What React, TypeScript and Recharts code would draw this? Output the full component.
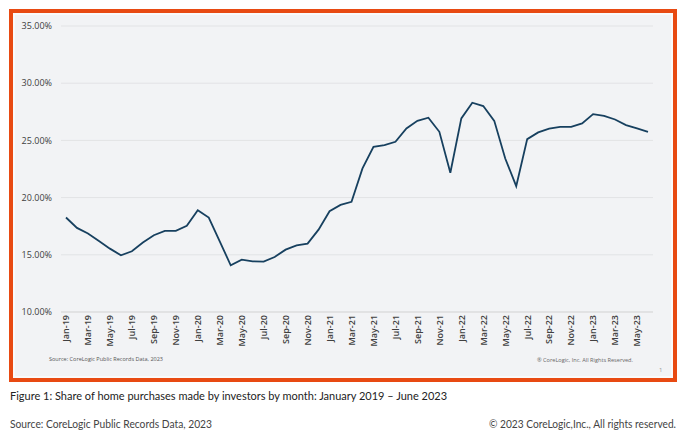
import React from 'react';
import { LineChart, Line, XAxis, YAxis, CartesianGrid } from 'recharts';

const MONTHS: string[] = [
  'Jan-19', 'Feb-19', 'Mar-19', 'Apr-19', 'May-19', 'Jun-19', 'Jul-19', 'Aug-19', 'Sep-19', 'Oct-19', 'Nov-19', 'Dec-19',
  'Jan-20', 'Feb-20', 'Mar-20', 'Apr-20', 'May-20', 'Jun-20', 'Jul-20', 'Aug-20', 'Sep-20', 'Oct-20', 'Nov-20', 'Dec-20',
  'Jan-21', 'Feb-21', 'Mar-21', 'Apr-21', 'May-21', 'Jun-21', 'Jul-21', 'Aug-21', 'Sep-21', 'Oct-21', 'Nov-21', 'Dec-21',
  'Jan-22', 'Feb-22', 'Mar-22', 'Apr-22', 'May-22', 'Jun-22', 'Jul-22', 'Aug-22', 'Sep-22', 'Oct-22', 'Nov-22', 'Dec-22',
  'Jan-23', 'Feb-23', 'Mar-23', 'Apr-23', 'May-23', 'Jun-23',
];

const INVESTOR_SHARE: number[] = [
  18.26, 17.35, 16.86, 16.21, 15.54, 14.96, 15.31, 16.07, 16.71, 17.09, 17.09, 17.53,
  18.9, 18.26, 16.18, 14.08, 14.58, 14.43, 14.4, 14.81, 15.45, 15.83, 15.98, 17.2,
  18.81, 19.36, 19.63, 22.55, 24.44, 24.59, 24.88, 26.05, 26.71, 26.98, 25.75, 22.17,
  26.92, 28.29, 28.0, 26.71, 23.42, 21.0, 25.11, 25.7, 26.02, 26.19, 26.19, 26.48,
  27.3, 27.15, 26.83, 26.34, 26.05, 25.75,
];

const Y_TICKS: number[] = [10, 15, 20, 25, 30, 35];

const CAPTION = 'Figure 1: Share of home purchases made by investors by month: January 2019 \u2013 June 2023';
const SOURCE_INNER = 'Source: CoreLogic Public Records Data, 2023';
const RIGHTS_INNER = '\u00AE CoreLogic, Inc. All Rights Reserved.';
const SOURCE_OUTER = 'Source: CoreLogic Public Records Data, 2023';
const RIGHTS_OUTER = '\u00A9 2023 CoreLogic,Inc., All rights reserved.';

const data = MONTHS.map((m, i) => ({ month: m, share: INVESTOR_SHARE[i] }));

const XTick = (props: any) => {
  const { x, y, payload } = props;
  return (
    <text
      transform={`translate(${x + 3.3},${y + 3}) rotate(-90)`}
      textAnchor="end"
      fontFamily="'Open Sans', sans-serif"
      fontWeight={600}
      fontSize={9}
      fill="#404040"
    >
      {payload.value}
    </text>
  );
};

export default function App() {
  return (
    <div style={{ position: 'absolute', left: 0, top: 0, width: 690, height: 439, background: '#ffffff', overflow: 'hidden' }}>
      <div
        style={{
          position: 'absolute',
          left: 9,
          top: 9,
          width: 668,
          height: 373,
          boxSizing: 'border-box',
          border: '4px solid #e84a12',
          background: '#f2f3f5',
          boxShadow: 'inset 0 0 0 2px #fafafa',
        }}
      />
      <div style={{ position: 'absolute', left: 0, top: 0 }}>
        <LineChart width={690} height={390} data={data} margin={{ top: 26, right: 37, bottom: 38, left: 11 }}>
          <CartesianGrid vertical={false} stroke="#e2e3e5" strokeWidth={1} />
          <XAxis
            dataKey="month"
            interval={1}
            tick={<XTick />}
            tickLine={false}
            tickSize={0}
            tickMargin={0}
            height={40}
            axisLine={{ stroke: '#d9d9d9' }}
            padding={{ left: 5, right: 5 }}
          />
          <YAxis
            domain={[10, 35]}
            ticks={Y_TICKS}
            width={50}
            axisLine={false}
            tickLine={false}
            tickSize={0}
            tickMargin={9}
            tickFormatter={(v: number) => `${v.toFixed(2)}%`}
            tick={{ fontFamily: "'Open Sans', sans-serif", fontSize: 9, fill: '#404040' }}
          />
          <Line
            type="linear"
            dataKey="share"
            stroke="#17405f"
            strokeWidth={1.8}
            dot={false}
            isAnimationActive={false}
          />
        </LineChart>
      </div>
      <svg width={690} height={439} style={{ position: 'absolute', left: 0, top: 0, pointerEvents: 'none' }}>
        <text x={49} y={361} fontFamily="'Open Sans', sans-serif" fontSize={5.6} fill="#555" textLength={114} lengthAdjust="spacingAndGlyphs">
          {SOURCE_INNER}
        </text>
        <text x={537} y={362} fontFamily="'Open Sans', sans-serif" fontSize={5.6} fill="#666" textLength={96} lengthAdjust="spacingAndGlyphs">
          {RIGHTS_INNER}
        </text>
        <text x={659} y={372} fontFamily="'Open Sans', sans-serif" fontSize={6} fill="#999">
          1
        </text>
        <text x={10} y={400} fontFamily="Lato, sans-serif" fontSize={11.5} fill="#222" textLength={437} lengthAdjust="spacingAndGlyphs">
          {CAPTION}
        </text>
        <text x={10} y={428} fontFamily="Lato, sans-serif" fontSize={11} fill="#444" textLength={202} lengthAdjust="spacingAndGlyphs">
          {SOURCE_OUTER}
        </text>
        <text x={676} y={428} textAnchor="end" fontFamily="Lato, sans-serif" fontSize={11} fill="#444" textLength={187} lengthAdjust="spacingAndGlyphs">
          {RIGHTS_OUTER}
        </text>
      </svg>
    </div>
  );
}
